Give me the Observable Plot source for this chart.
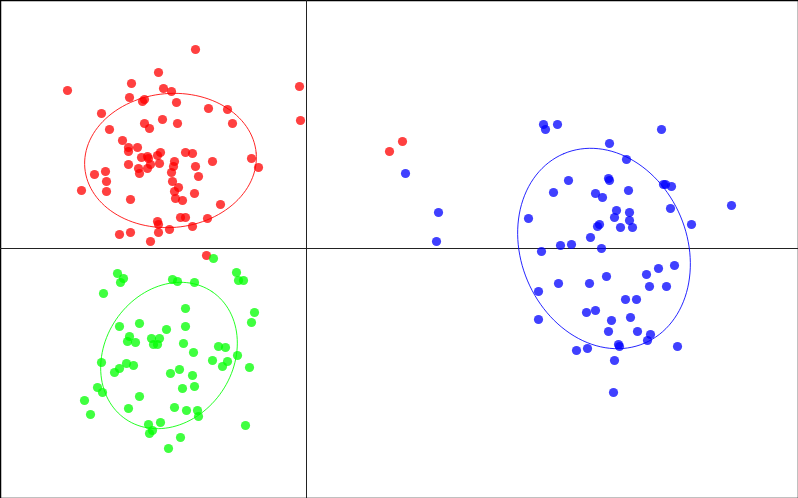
<!DOCTYPE html>
<html>
<head>
<meta charset="utf-8">
<script src="https://cdn.jsdelivr.net/npm/d3@7"></script>
<script src="https://cdn.jsdelivr.net/npm/@observablehq/plot@0.6"></script>
<style>
  html, body { margin: 0; padding: 0; background: #fff; }
  #chart svg { display: block; }
</style>
</head>
<body>
<div id="chart"></div>
<script>
// Group A (red)
const redX = [-111,-239,-148,-175,-143,-135,-7,-177,-162,-164,-130,-98,-79,-205,-6,-162,-144,-129,-74,-157,-197,-184,-178,-169,-178,-165,-159,-158,-149,-146,-121,-114,-178,-156,-147,-132,-133,-159,-168,-167,-135,-111,-94,-55,-48,-201,-212,-108,-200,-134,-128,-225,-200,-132,-112,-176,-131,-124,-86,-126,-121,-99,-149,-148,-114,-137,-187,-176,-148,-156,96,83,-100];
const redY = [199,158,176,165,160,157,162,151,149,147,146,140,139,135,128,125,129,125,125,120,119,108,101,101,97,91,92,90,93,96,96,95,84,84,85,87,82,80,80,75,76,82,87,90,81,77,74,72,67,67,61,58,57,57,55,49,50,48,44,31,31,30,27,24,22,19,14,16,16,7,107,97,-7];
// Group B (green)
const greenX = [-93,-189,-183,-186,-203,-134,-129,-112,-70,-68,-63,-52,-55,-121,-187,-167,-140,-121,-177,-179,-171,-155,-147,-153,-149,-123,-88,-81,-113,-205,-180,-187,-192,-173,-94,-79,-84,-69,-57,-136,-127,-114,-124,-112,-209,-204,-222,-167,-178,-132,-120,-109,-108,-216,-158,-146,-154,-157,-61,-126,-138];
const greenY = [-10,-25,-30,-34,-45,-31,-33,-34,-24,-32,-32,-64,-74,-60,-78,-75,-81,-78,-88,-93,-94,-90,-90,-96,-96,-95,-98,-99,-104,-114,-115,-120,-124,-117,-112,-113,-118,-107,-119,-125,-121,-127,-140,-138,-139,-144,-152,-148,-160,-159,-162,-162,-168,-166,-176,-174,-182,-185,-177,-189,-200];
// Group C (blue)
const blueX = [99,132,130,237,239,251,247,222,235,355,303,320,262,302,303,289,296,322,357,359,365,425,364,310,323,308,323,293,291,314,326,385,284,254,265,295,368,352,340,300,252,283,343,360,232,319,330,280,289,305,324,232,302,331,344,341,312,313,371,270,281,308,307];
const blueY = [75,36,7,124,119,124,56,30,-3,119,105,89,68,70,68,55,51,58,64,64,62,43,40,38,36,31,28,24,22,21,21,24,11,3,4,0,-17,-20,-26,-28,-35,-35,-38,-38,-43,-51,-51,-64,-62,-72,-69,-71,-83,-83,-86,-92,-96,-98,-98,-102,-100,-112,-144];

// Ellipse parameters per group: centre, semi-axes, rotation (deg)
const groups = ["A", "B", "C"];
const colors = ["#ff0000", "#00ff00", "#0000ff"];
const ellCx = [-136, -137.5, 297.5];
const ellCy = [88, -107, 0];
const ellA = [86, 77, 103];
const ellB = [67, 64, 83];
const ellAngle = [5, 56, 113];

const points = [];
[[redX, redY], [greenX, greenY], [blueX, blueY]].forEach(([xs, ys], g) => {
  xs.forEach((x, i) => points.push({x, y: ys[i], group: groups[g]}));
});

const ellipse = [];
groups.forEach((grp, g) => {
  const phi = ellAngle[g] * Math.PI / 180;
  for (let k = 0; k <= 120; k++) {
    const t = 2 * Math.PI * k / 120;
    const u = ellA[g] * Math.cos(t), v = ellB[g] * Math.sin(t);
    ellipse.push({
      group: grp,
      x: ellCx[g] + u * Math.cos(phi) - v * Math.sin(phi),
      y: ellCy[g] + u * Math.sin(phi) + v * Math.cos(phi)
    });
  }
});

const chart = Plot.plot({
  width: 798,
  height: 498,
  margin: 0,
  x: {domain: [-306, 492], axis: null},
  y: {domain: [-250, 248], axis: null},
  color: {domain: groups, range: colors},
  marks: [
    Plot.frame({stroke: "#000", strokeWidth: 1.5}),
    Plot.ruleX([0], {stroke: "#222", strokeWidth: 1}),
    Plot.ruleY([0], {stroke: "#222", strokeWidth: 1}),
    Plot.dot(points, {x: "x", y: "y", fill: "group", r: 4.6, fillOpacity: 0.75, stroke: "none"}),
    Plot.line(ellipse, {x: "x", y: "y", z: "group", stroke: "group", strokeWidth: 1, strokeOpacity: 0.85})
  ]
});
document.getElementById("chart").appendChild(chart);
</script>
</body>
</html>
